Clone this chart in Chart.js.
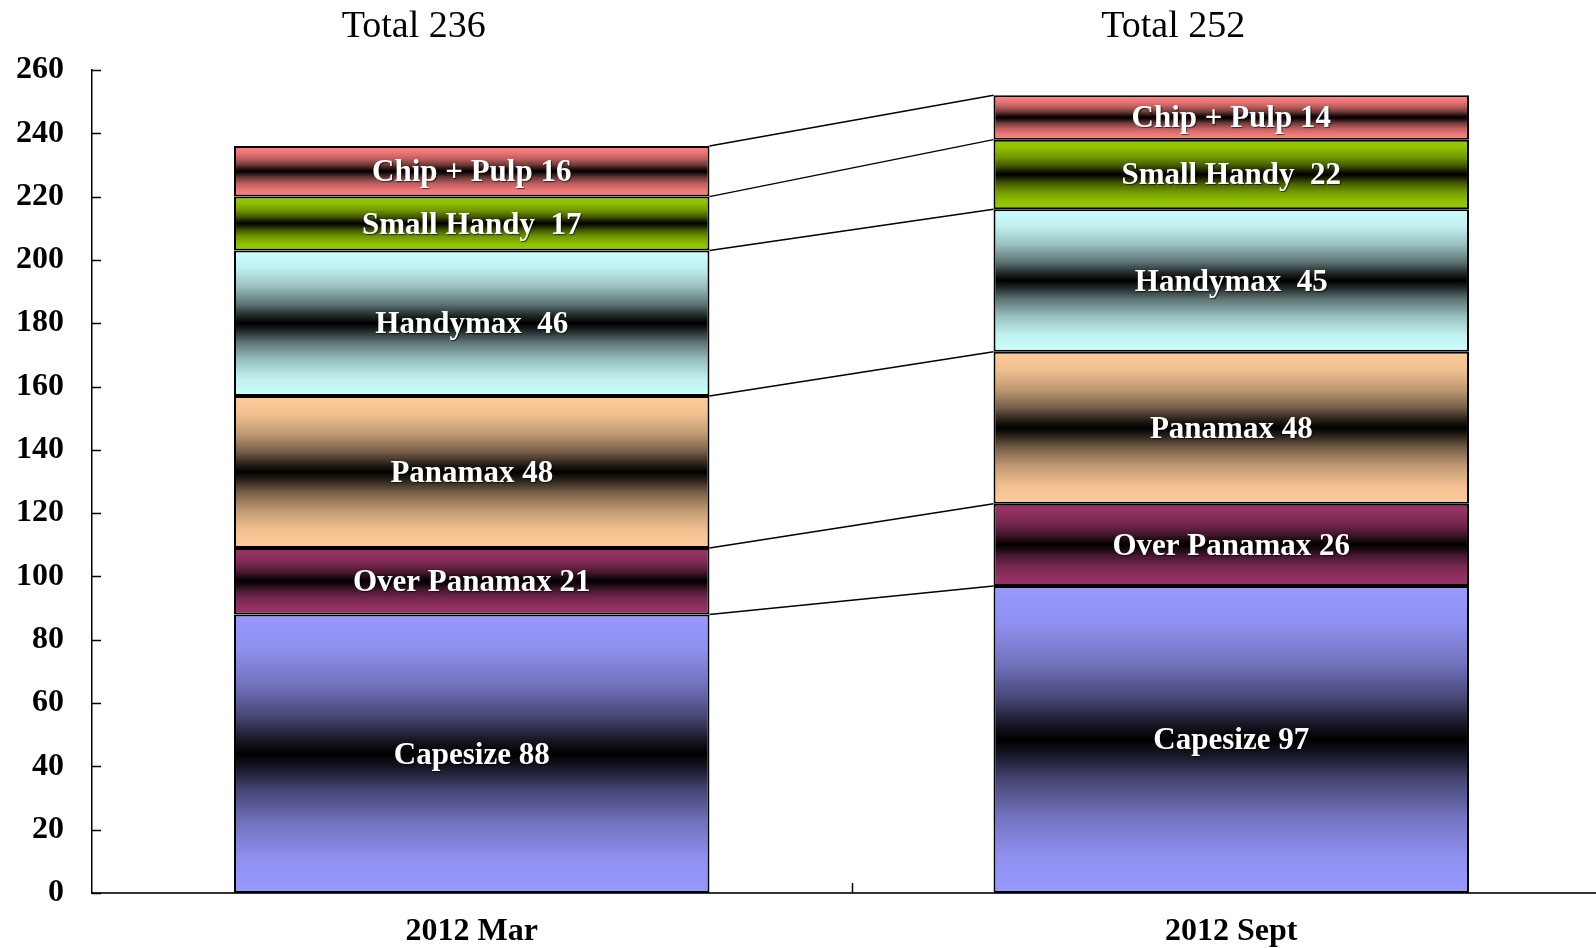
<!DOCTYPE html>
<html>
<head>
<meta charset="utf-8">
<script src="https://cdn.jsdelivr.net/npm/chart.js@4"></script>
<style>
html,body{margin:0;padding:0;background:#fff;overflow:hidden;}
#wrap{width:1611px;height:948px;}
</style>
</head>
<body>
<div id="wrap"><canvas id="c" width="1611" height="948"></canvas></div>
<script>
const categories = ['2012 Mar', '2012 Sept'];
const capesize    = [88, 97];
const overPanamax = [21, 26];
const panamax     = [48, 48];
const handymax    = [46, 45];
const smallHandy  = [17, 22];
const chipPulp    = [16, 14];
const seriesNames = ['Capesize', 'Over Panamax', 'Panamax', 'Handymax ', 'Small Handy ', 'Chip + Pulp'];
const seriesColors = ['#9999FF', '#993366', '#FFCC99', '#CCFFFF', '#99CC00', '#FF8080'];
const yTicks = {min: 0, max: 260, step: 20};

const seriesList = [capesize, overPanamax, panamax, handymax, smallHandy, chipPulp];

// brightness profile of the stripe gradient (edge -> centre)
const shadeStops = [[0, 1], [0.12, 0.94], [0.25, 0.75], [0.37, 0.45], [0.45, 0.15], [0.5, 0]];

function shade(hex, f) {
  const r = parseInt(hex.slice(1, 3), 16), g = parseInt(hex.slice(3, 5), 16), b = parseInt(hex.slice(5, 7), 16);
  return 'rgb(' + Math.round(r * f) + ',' + Math.round(g * f) + ',' + Math.round(b * f) + ')';
}

function gradFor(ctx, color) {
  const chart = ctx.chart;
  const ys = chart.scales.y;
  if (!chart.chartArea || !ys) return color;
  const di = ctx.datasetIndex, ci = ctx.dataIndex;
  if (ci === undefined) return color;
  let base = 0;
  for (let k = 0; k < di; k++) base += seriesList[k][ci];
  const top = base + seriesList[di][ci];
  const y0 = ys.getPixelForValue(top), y1 = ys.getPixelForValue(base);
  const g = chart.ctx.createLinearGradient(0, y0, 0, y1);
  shadeStops.forEach(([p, f]) => {
    g.addColorStop(p, shade(color, f));
    if (p < 0.5) g.addColorStop(1 - p, shade(color, f));
  });
  return g;
}

const datasets = seriesList.map((vals, i) => ({
  label: seriesNames[i],
  data: vals,
  backgroundColor: (ctx) => gradFor(ctx, seriesColors[i]),
  borderColor: '#000',
  borderWidth: 2,
  borderSkipped: false,
  barPercentage: 0.626,
  categoryPercentage: 1.0
}));

const overlay = {
  id: 'overlay',
  afterDatasetsDraw(chart) {
    const ctx = chart.ctx;
    const xs = chart.scales.x, ys = chart.scales.y;
    const metas = seriesList.map((s, i) => chart.getDatasetMeta(i));
    ctx.save();
    // connectors
    ctx.strokeStyle = '#000';
    ctx.lineWidth = 1.5;
    for (let c = 0; c < categories.length - 1; c++) {
      let cumA = 0, cumB = 0;
      const a = metas[0].data[c], b = metas[0].data[c + 1];
      const xa = a.x + a.width / 2, xb = b.x - b.width / 2;
      seriesList.forEach(s => {
        cumA += s[c]; cumB += s[c + 1];
        ctx.beginPath();
        ctx.moveTo(xa, ys.getPixelForValue(cumA));
        ctx.lineTo(xb, ys.getPixelForValue(cumB));
        ctx.stroke();
      });
    }
    // segment labels
    ctx.font = 'bold 31px "Liberation Serif", "DejaVu Serif", serif';
    ctx.textAlign = 'center';
    ctx.textBaseline = 'middle';
    ctx.fillStyle = '#fff';
    ctx.shadowColor = 'rgba(0,0,0,0.6)';
    ctx.shadowOffsetX = 1; ctx.shadowOffsetY = 1; ctx.shadowBlur = 1;
    seriesList.forEach((s, i) => {
      metas[i].data.forEach((el, c) => {
        ctx.fillText(seriesNames[i] + ' ' + s[c], el.x, (el.y + el.base) / 2 + 2);
      });
    });
    ctx.shadowColor = 'transparent';
    // totals
    ctx.fillStyle = '#000';
    ctx.font = '38px "Liberation Serif", "DejaVu Serif", serif';
    categories.forEach((cat, c) => {
      let tot = 0; seriesList.forEach(s => tot += s[c]);
      const el = metas[0].data[c];
      ctx.fillText('Total ' + tot, el.x - 58, 27);
    });
    // tick marks (inside)
    ctx.strokeStyle = '#000';
    ctx.lineWidth = 1.5;
    ys.ticks.forEach(t => {
      const py = Math.round(ys.getPixelForValue(t.value)) + 0.5;
      ctx.beginPath();
      ctx.moveTo(xs.left, py);
      ctx.lineTo(xs.left + 9, py);
      ctx.stroke();
    });
    for (let c = 0; c < categories.length - 1; c++) {
      const px = Math.round((xs.getPixelForValue(c) + xs.getPixelForValue(c + 1)) / 2) + 0.5;
      ctx.beginPath();
      ctx.moveTo(px, ys.bottom);
      ctx.lineTo(px, ys.bottom - 10);
      ctx.stroke();
    }
    ctx.restore();
  }
};

new Chart(document.getElementById('c'), {
  type: 'bar',
  data: {labels: categories, datasets},
  options: {
    responsive: false,
    animation: false,
    layout: {padding: {top: 70, left: 0, right: 0, bottom: 0}},
    plugins: {legend: {display: false}, tooltip: {enabled: false}},
    scales: {
      x: {
        stacked: true,
        offset: true,
        grid: {display: false},
        border: {display: true, color: '#333', width: 2},
        ticks: {
          color: '#000',
          padding: 12,
          font: {family: '"Liberation Serif", serif', size: 32, weight: 'bold'}
        },
        afterFit: s => { s.height = 55; }
      },
      y: {
        stacked: true,
        min: yTicks.min,
        max: yTicks.max,
        grid: {display: false},
        border: {display: true, color: '#000', width: 1.5},
        ticks: {
          stepSize: yTicks.step,
          color: '#000',
          padding: 20,
          font: {family: '"Liberation Serif", serif', size: 32, weight: 'bold'}
        },
        afterFit: s => { s.width = 92; }
      }
    }
  },
  plugins: [overlay]
});
</script>
</body>
</html>
